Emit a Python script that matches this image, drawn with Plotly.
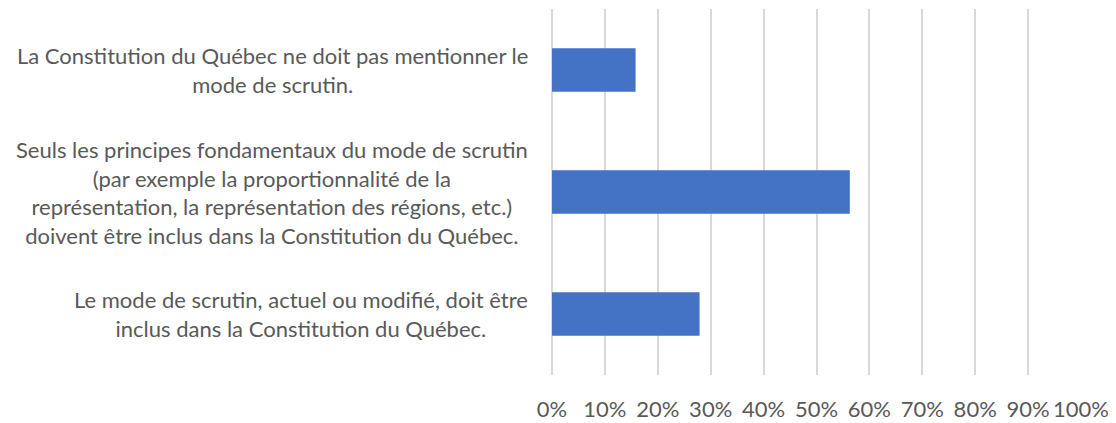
import plotly.graph_objects as go

categories = [
    "La Constitution du Québec ne doit pas mentionner le<br>mode de scrutin.",
    "Seuls les principes fondamentaux du mode de scrutin<br>(par exemple la proportionnalité de la<br>représentation, la représentation des régions, etc.)<br>doivent être inclus dans la Constitution du Québec.",
    "Le mode de scrutin, actuel ou modifié, doit être<br>inclus dans la Constitution du Québec.",
]
values = [0.158, 0.563, 0.279]
x_ticks = [0, 0.1, 0.2, 0.3, 0.4, 0.5, 0.6, 0.7, 0.8, 0.9, 1.0]
x_labels = ["0%", "10%", "20%", "30%", "40%", "50%", "60%", "70%", "80%", "90%", "100%"]

FONT = "Lato, Calibri, Carlito, sans-serif"
TEXT = "#595959"
positions = list(range(len(categories)))

fig = go.Figure(
    go.Bar(
        x=values,
        y=positions,
        orientation="h",
        marker=dict(color="#4472c4", line=dict(width=0)),
        hoverinfo="x",
    )
)

for pos, label in zip(positions, categories):
    fig.add_annotation(
        x=0, xref="paper", xanchor="right", xshift=-22,
        y=pos, yref="y", yanchor="middle",
        text=label, align="center", showarrow=False,
        font=dict(family=FONT, size=22, color=TEXT),
    )

fig.update_layout(
    width=1108,
    height=415,
    margin=dict(l=544, r=35, t=1, b=43),
    paper_bgcolor="white",
    plot_bgcolor="white",
    bargap=0.645,
    showlegend=False,
    font=dict(family=FONT, size=22, color=TEXT),
)

fig.update_xaxes(
    range=[0, 1],
    tickvals=x_ticks,
    ticktext=x_labels,
    showgrid=True,
    gridcolor="#d9d9d9",
    gridwidth=2,
    zeroline=True,
    zerolinecolor="#d9d9d9",
    zerolinewidth=2,
    showline=False,
    ticks="",
    ticklabelstandoff=19,
    tickfont=dict(family=FONT, size=22, color=TEXT),
)

fig.update_yaxes(
    range=[2.5, -0.5],
    showticklabels=False,
    showgrid=False,
    zeroline=False,
    showline=False,
    ticks="",
)

fig.write_html("out.html")
